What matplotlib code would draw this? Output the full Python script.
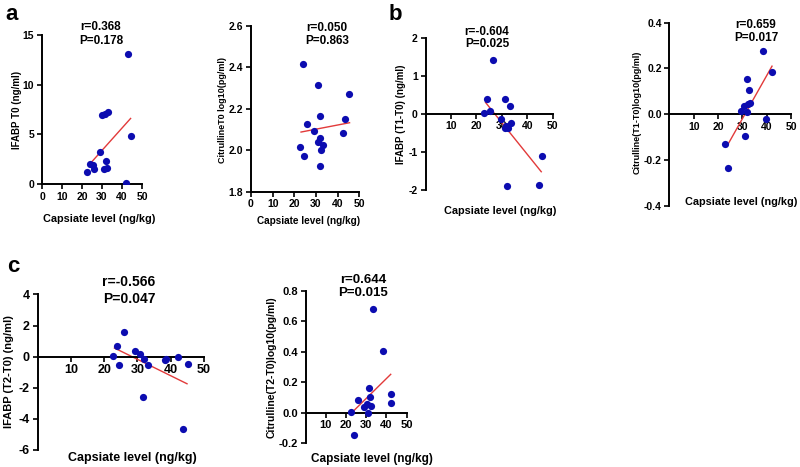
import numpy as np
import matplotlib
matplotlib.use("Agg")
import matplotlib.pyplot as plt

plt.rcParams['font.family'] = ['Liberation Sans', 'DejaVu Sans']
plt.rcParams['font.weight'] = 'bold'
plt.rcParams['axes.unicode_minus'] = False

# data (capsiate level, marker values) + fitted lines
a1_x = [43.2, 30.0, 31.5, 33.2, 44.7, 29.0, 32.0, 24.0, 25.3, 22.7, 26.2, 30.8, 32.3, 41.8]
a1_y = [13.06, 6.95, 7.05, 7.2, 4.86, 3.19, 2.3, 1.98, 1.9, 1.24, 1.47, 1.54, 1.6, 0.1]
a1_fit_x = [24.3, 44.3]
a1_fit_y = [2.1, 6.6]

a2_x = [23.8, 30.8, 45.1, 31.9, 43.5, 26.0, 29.2, 42.3, 31.7, 30.8, 33.2, 22.6, 32.5, 24.5, 32.0]
a2_y = [2.418, 2.314, 2.270, 2.164, 2.150, 2.127, 2.092, 2.083, 2.058, 2.039, 2.024, 2.014,
        2.003, 1.971, 1.926]
a2_fit_x = [23.1, 45.5]
a2_fit_y = [2.088, 2.133]

b1_x = [26.7, 24.3, 31.3, 33.1, 23.0, 25.3, 29.8, 33.7, 31.7, 32.5, 31.3, 45.9, 32.2, 44.6]
b1_y = [1.42, 0.40, 0.39, 0.21, 0.035, 0.08, -0.14, -0.23, -0.33, -0.38, -0.38, -1.1, -1.89, -1.86]
b1_fit_x = [23.6, 45.5]
b1_fit_y = [0.3, -1.52]

b2_x = [38.4, 42.3, 31.8, 32.6, 33.3, 32.2, 30.7, 29.3, 31.9, 39.6, 31.0, 23.0, 24.0]
b2_y = [0.276, 0.185, 0.153, 0.104, 0.050, 0.046, 0.037, 0.012, 0.010, -0.020, -0.094,
        -0.132, -0.237]
b2_fit_x = [23.6, 42.2]
b2_fit_y = [-0.141, 0.21]

c1_x = [26.1, 23.9, 29.2, 30.8, 22.7, 42.2, 32.0, 38.2, 38.6, 24.6, 33.1, 45.1, 31.6, 43.7]
c1_y = [1.61, 0.71, 0.39, 0.17, 0.02, 0.0, -0.13, -0.19, -0.16, -0.52, -0.54, -0.45, -2.56, -4.63]
c1_fit_x = [23.1, 44.9]
c1_fit_y = [0.56, -1.74]

c2_x = [33.2, 38.1, 31.5, 42.1, 31.9, 25.8, 42.4, 30.2, 32.4, 29.1, 22.6, 30.7, 24.0]
c2_y = [0.682, 0.405, 0.164, 0.125, 0.101, 0.083, 0.066, 0.057, 0.044, 0.037, 0.005, 0.0, -0.148]
c2_fit_x = [22.8, 42.1]
c2_fit_y = [0.0, 0.252]

W, H = 800, 467
DOT = '#0c0cb0'
LINE = '#e23a3a'
XLAB = 'Capsiate level (ng/kg)'

fig = plt.figure(figsize=(W / 100, H / 100), dpi=100)


def box(x0, x1, y0, y1):
    # pixel box -> figure fraction rect
    return [x0 / W, 1 - y1 / H, (x1 - x0) / W, (y1 - y0) / H]


def ftext(x, y, s, **kw):
    fig.text(x / W, 1 - y / H, s, ha='center', va='center', fontweight='bold', **kw)


def panel(rect, x, y, fx, fy, ylim, yticks, zero_axis, tsize):
    ax = fig.add_axes(rect)
    ax.scatter(x, y, s=27, color=DOT, zorder=3, linewidths=0)
    ax.plot(fx, fy, color=LINE, lw=1.0, zorder=2)
    ax.set_xlim(0, 50)
    ax.set_ylim(*ylim)
    ax.set_yticks(yticks)
    for s in ['top', 'right']:
        ax.spines[s].set_visible(False)
    for s in ['left', 'bottom']:
        ax.spines[s].set_linewidth(1.4)
    if zero_axis:
        ax.spines['bottom'].set_position(('data', 0))
        ax.set_xticks([10, 20, 30, 40, 50])
    else:
        ax.set_xticks([0, 10, 20, 30, 40, 50])
    ax.tick_params(direction='out', length=3.5, width=1.2, labelsize=tsize, pad=2)
    for lab in ax.get_xticklabels() + ax.get_yticklabels():
        lab.set_fontweight('bold')
    ax.patch.set_alpha(0)
    return ax


# a
panel(box(42, 142, 35, 184), a1_x, a1_y, a1_fit_x, a1_fit_y, (0, 15), [0, 5, 10, 15], False, 7.5)
ftext(17, 110, 'IFABP T0 (ng/ml)', rotation=90, fontsize=7)
ftext(101, 27, 'r=0.368', fontsize=8.5)
ftext(101, 41, 'P=0.178', fontsize=8.5)
ftext(99, 219, XLAB, fontsize=7.8)

panel(box(251, 359.3, 26, 191.7), a2_x, a2_y, a2_fit_x, a2_fit_y, (1.8, 2.6),
      [1.8, 2.0, 2.2, 2.4, 2.6], False, 7.5)
ftext(222, 110, 'CitrullineT0 log10(pg/ml)', rotation=90, fontsize=6.5)
ftext(327, 28, 'r=0.050', fontsize=8.5)
ftext(327, 41, 'P=0.863', fontsize=8.5)
ftext(309, 221, XLAB, fontsize=7.2)

# b
panel(box(425.5, 552.7, 37.7, 190), b1_x, b1_y, b1_fit_x, b1_fit_y, (-2, 2), [-2, -1, 0, 1, 2],
      True, 7.5)
ftext(401, 114, 'IFABP (T1-T0) (ng/ml)', rotation=90, fontsize=7)
ftext(487, 32, 'r=-0.604', fontsize=8.5)
ftext(487, 44, 'P=0.025', fontsize=8.5)
ftext(500, 211, XLAB, fontsize=7.8)

panel(box(669.3, 791, 22.7, 205.7), b2_x, b2_y, b2_fit_x, b2_fit_y, (-0.4, 0.4),
      [-0.4, -0.2, 0.0, 0.2, 0.4], True, 7.5)
ftext(637, 112, 'Citrulline(T1-T0)log10(pg/ml)', rotation=90, fontsize=6.5)
ftext(756, 25, 'r=0.659', fontsize=8.5)
ftext(756, 38, 'P=0.017', fontsize=8.5)
ftext(741, 202, XLAB, fontsize=7.8)

# c
panel(box(37.5, 204, 294.5, 450), c1_x, c1_y, c1_fit_x, c1_fit_y, (-6, 4), [-6, -4, -2, 0, 2, 4],
      True, 9)
ftext(9.5, 372, 'IFABP (T2-T0) (ng/ml)', rotation=90, fontsize=8)
ftext(129, 282, 'r=-0.566', fontsize=10)
ftext(129, 299, 'P=0.047', fontsize=10)
ftext(132, 457.5, XLAB, fontsize=9)

panel(box(305.5, 406.7, 290.7, 443.3), c2_x, c2_y, c2_fit_x, c2_fit_y, (-0.2, 0.8),
      [-0.2, 0.0, 0.2, 0.4, 0.6, 0.8], True, 8)
ftext(272, 367, 'Citrulline(T2-T0)log10(pg/ml)', rotation=90, fontsize=7.5)
ftext(363, 280, 'r=0.644', fontsize=9.5)
ftext(363, 293, 'P=0.015', fontsize=9.5)
ftext(372, 459, XLAB, fontsize=8.5)

# panel letters
ftext(12, 15, 'a', fontsize=16)
ftext(395, 15, 'b', fontsize=16)
ftext(13, 266, 'c', fontsize=16)

fig.savefig('out.png', dpi=100)
